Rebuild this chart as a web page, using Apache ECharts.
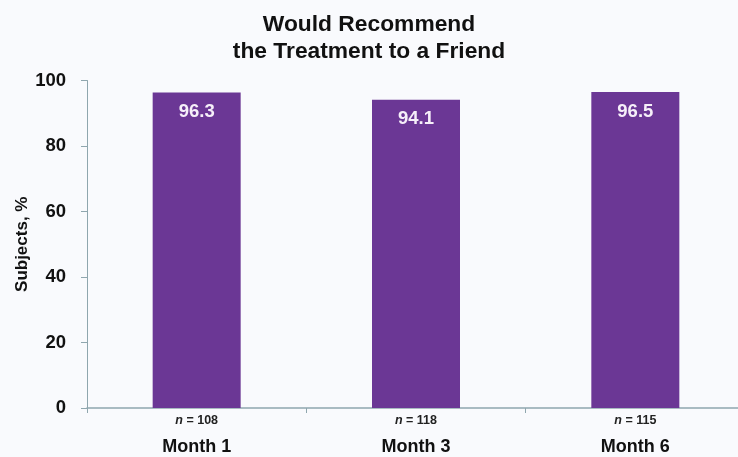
<!DOCTYPE html>
<html>
<head>
<meta charset="utf-8">
<script src="https://cdn.jsdelivr.net/npm/echarts@6/dist/echarts.min.js"></script>
<style>
html,body{margin:0;padding:0;background:#f9fafd;}
#chart{width:738px;height:457px;}
</style>
</head>
<body>
<div id="chart"></div>
<script>
const categories = ["Month 1", "Month 3", "Month 6"];
const nValues = [108, 118, 115];
const percentValues = [96.3, 94.1, 96.5];
const titleLines = ["Would Recommend", "the Treatment to a Friend"];
const yAxisName = "Subjects, %";

const FONT = "Arial, 'Liberation Sans', Helvetica, sans-serif";
const chart = echarts.init(document.getElementById('chart'), null, {renderer: 'canvas'});
chart.setOption({
  backgroundColor: '#f9fafd',
  animation: false,
  title: {
    text: titleLines.join('\n'),
    left: 'center',
    top: 6,
    textStyle: {fontFamily: FONT, fontWeight: 'bold', fontSize: 22.8, lineHeight: 27, color: '#111'}
  },
  grid: {left: 87, top: 80.5, width: 658, height: 327.5, outerBoundsMode: 'none', containLabel: false},
  xAxis: {
    type: 'category',
    data: categories,
    axisLine: {lineStyle: {color: '#8fa6ae', width: 1.5}},
    axisTick: {show: true, length: 5, lineStyle: {color: '#8fa6ae'}},
    axisLabel: {
      margin: 0,
      formatter: function (v, i) {
        return '{ni|n}{nv| = ' + nValues[i] + '}\n{m|' + v + '}';
      },
      rich: {
        ni: {fontFamily: FONT, fontStyle: 'italic', fontWeight: 'bold', fontSize: 12.5, lineHeight: 26, color: '#222'},
        nv: {fontFamily: FONT, fontWeight: 'bold', fontSize: 12.5, lineHeight: 26, color: '#222'},
        m: {fontFamily: FONT, fontWeight: 'bold', fontSize: 18, lineHeight: 26, color: '#111'}
      }
    }
  },
  yAxis: {
    type: 'value',
    min: 0, max: 100, interval: 20,
    name: yAxisName,
    nameLocation: 'middle',
    nameRotate: 90,
    nameGap: 56,
    nameMoveOverlap: false,
    nameTextStyle: {fontFamily: FONT, fontWeight: 'bold', fontSize: 17, color: '#111'},
    splitLine: {show: false},
    axisLine: {show: true, lineStyle: {color: '#8fa6ae', width: 1}},
    axisTick: {show: true, length: 6, lineStyle: {color: '#8fa6ae'}},
    axisLabel: {margin: 21, fontFamily: FONT, fontWeight: 'bold', fontSize: 18.5, color: '#111'}
  },
  series: [{
    type: 'bar',
    data: percentValues,
    barWidth: 88,
    itemStyle: {color: '#6b3795'},
    label: {
      show: true,
      position: 'insideTop',
      distance: 10,
      formatter: function (p) { return p.value.toFixed(1); },
      fontFamily: FONT, fontWeight: 'bold', fontSize: 18.5, color: '#f6eff9'
    }
  }]
});
</script>
</body>
</html>
